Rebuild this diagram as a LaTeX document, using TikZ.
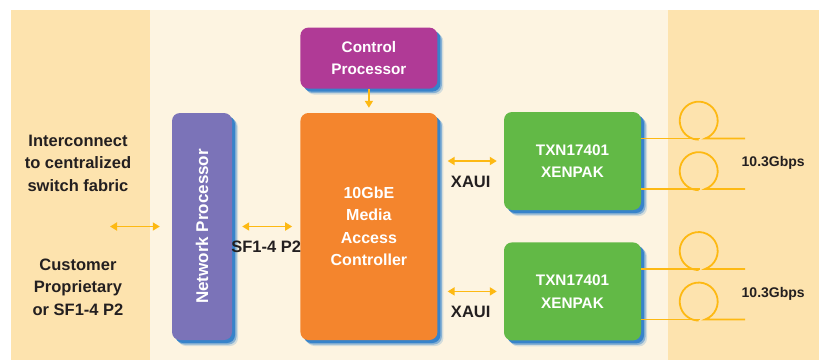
\documentclass[tikz,border=0pt]{standalone}
\usepackage{fontspec}
\setmainfont{Liberation Sans}
\usetikzlibrary{positioning,arrows.meta,shadows}

\definecolor{bandorange}{HTML}{FDE3AE}
\definecolor{bandcream}{HTML}{FDF4E1}
\definecolor{npurple}{HTML}{7B73B8}
\definecolor{cpurple}{HTML}{B03A96}
\definecolor{macorange}{HTML}{F4852D}
\definecolor{xgreen}{HTML}{62B946}
\definecolor{linkyellow}{HTML}{FDB913}
\definecolor{shadowblue}{HTML}{2A7CC9}
\definecolor{labeltext}{HTML}{231F20}

\tikzset{
  blk/.style={rounded corners=8pt, inner sep=0pt, text=white, align=center,
    font=\bfseries\fontsize{15.3}{22.5}\selectfont,
    drop shadow={shadow xshift=6pt, shadow yshift=-6pt, fill=shadowblue, opacity=0.2},
    drop shadow={shadow xshift=4.5pt, shadow yshift=-4.5pt, fill=shadowblue, opacity=0.45},
    drop shadow={shadow xshift=3pt, shadow yshift=-3pt, fill=shadowblue, opacity=0.85}},
  link/.style={{Triangle[length=7pt,width=8pt]}-{Triangle[length=7pt,width=8pt]},
    linkyellow, line width=1.8pt},
  feed/.style={-{Triangle[length=7pt,width=8pt]}, linkyellow, line width=1.8pt},
  fiber/.style={linkyellow, line width=1.8pt},
  lbl/.style={text=labeltext, align=center, font=\bfseries\fontsize{16.5}{22.5}\selectfont},
  rate/.style={text=labeltext, font=\bfseries\fontsize{14}{16}\selectfont}
}

\begin{document}
\begin{tikzpicture}[x=1pt, y=-1pt]
  \useasboundingbox (0,0) rectangle (819,360);

  % background bands
  \fill[bandorange] (11,10) rectangle (150,360);
  \fill[bandcream] (150,10) rectangle (668,360);
  \fill[bandorange] (668,10) rectangle (819,360);

  % blocks
  \node[blk, fill=npurple, minimum width=60pt, minimum height=227pt] (np) at (202,226.5) {};
  \node[rotate=90, text=white, font=\bfseries\fontsize{17}{18}\selectfont] (nptext) at (np.center) {Network Processor};
  \node[blk, fill=macorange, minimum width=137pt, minimum height=227pt, right=68pt of np,
    font=\bfseries\fontsize{16}{22.5}\selectfont] (mac)
    {10GbE\\Media\\Access\\Controller};
  \node[blk, fill=cpurple, minimum width=137pt, minimum height=61pt, above=24pt of mac] (ctrl)
    {Control\\Processor};
  \node[blk, fill=xgreen, minimum width=137pt, minimum height=98pt] (xen1) at (572.5,161)
    {TXN17401\\XENPAK};
  \node[blk, fill=xgreen, minimum width=137pt, minimum height=98pt, below=32pt of xen1] (xen2)
    {TXN17401\\XENPAK};

  % side texts
  \node[lbl] (fabric text) at (78,163) {Interconnect\\to centralized\\switch fabric};
  \node[lbl] (custom text) at (78,287) {Customer\\Proprietary\\or SF1-4 P2};
  \coordinate (fabric) at (110,226.5);

  % links
  \draw[link, shorten >=12pt] (fabric) -- (np.west);
  \draw[link, shorten <=10pt, shorten >=8pt] (np.east) --
    node[lbl, below=10pt] (sf) {SF1-4 P2} (mac.west);
  \draw[feed, shorten >=5pt] (ctrl.south) -- (mac.north);
  \draw[link, shorten <=10pt, shorten >=7pt] (mac.east |- xen1.west) --
    node[lbl, below=11pt] (xaui1) {XAUI} (xen1.west);
  \draw[link, shorten <=10pt, shorten >=7pt] (mac.east |- xen2.west) --
    node[lbl, below=11pt] (xaui2) {XAUI} (xen2.west);

  % fibre loops
  \foreach \n in {xen1,xen2} {
    \foreach \dy in {22.5,-28} {
      \draw[fiber] ([yshift=\dy pt]\n.east) -- ++(59,0);
      \draw[fiber] ([xshift=104pt,yshift=\dy pt]\n.east) -- ++(-40,0)
        arc[start angle=290, end angle=630, radius=19pt];
    }
    \node[rate] (rate-\n) at ([xshift=132pt,yshift=-2pt]\n.east) {10.3Gbps};
  }
\end{tikzpicture}
\end{document}
